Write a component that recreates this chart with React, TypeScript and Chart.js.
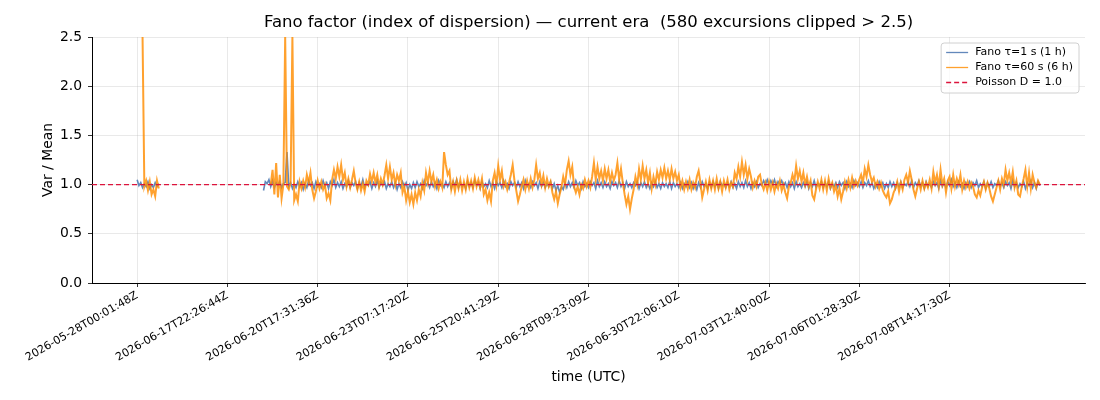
import React, { useEffect, useRef } from 'react';
import { Chart, registerables } from 'chart.js';

Chart.register(...registerables);

const FONT = '"DejaVu Sans", "Liberation Sans", sans-serif';
Chart.defaults.font.family = FONT;

const TITLE = 'Fano factor (index of dispersion) \u2014 current era  (580 excursions clipped > 2.5)';

// x is the sample index; tick labels are the timestamps of those samples
const TICK_SAMPLES = [0, 50, 100, 150, 200, 250, 300, 350, 400, 450];
const TICK_LABELS = [
  '2026-05-28T00:01:48Z',
  '2026-06-17T22:26:44Z',
  '2026-06-20T17:31:36Z',
  '2026-06-23T07:17:20Z',
  '2026-06-25T20:41:29Z',
  '2026-06-28T09:23:09Z',
  '2026-06-30T22:06:10Z',
  '2026-07-03T12:40:00Z',
  '2026-07-06T01:28:30Z',
  '2026-07-08T14:17:30Z',
];

const SERIES_NAMES = ['Fano \u03c4=1 s (1 h)', 'Fano \u03c4=60 s (6 h)', 'Poisson D = 1.0'];
const POISSON_D = 1.0;

// Fano factor, tau = 1 s (1 h window)
const FANO_1S = [
  1.05, 0.99, 1.02, 0.97, 1.01, 0.98, 1.03, 0.96, 1.0, 0.97, 1.02, 0.98, 1.01,
  null, null, null, null, null, null, null, null, null, null,
  null, null, null, null, null, null, null, null, null, null,
  null, null, null, null, null, null, null, null, null, null,
  null, null, null, null, null, null, null, null, null, null,
  null, null, null, null, null, null, null, null, null, null,
  null, null, null, null, null, null, null,
  0.94, 1.03, 1.01, 1.05, 0.98, 1.04, 0.97, 1.02, 0.99, 1.03,
  0.97, 1.01, 1.02, 1.33, 0.98, 1.02, 0.96, 1.01, 0.97, 1.03,
  0.98, 1.02, 0.95, 1.01, 0.97, 1.04, 0.99, 1.02, 0.96, 1.03,
  0.98, 1.01, 0.97, 1.04, 0.98, 1.02, 0.96, 1.03, 0.99, 1.05,
  0.97, 1.02, 0.98, 1.03, 0.96, 1.01, 0.98, 1.04, 0.97, 1.02,
  0.99, 1.03, 0.96, 1.02, 0.98, 1.05, 0.97, 1.01, 0.99, 1.03,
  0.96, 1.02, 0.98, 1.04, 0.97, 1.02, 0.99, 1.03, 0.96, 1.01,
  0.98, 1.03, 0.97, 1.02, 0.95, 1.01, 0.97, 1.03, 0.98, 1.02,
  0.94, 1.0, 0.96, 1.02, 0.97, 1.03, 0.98, 1.01, 0.96, 1.04,
  0.99, 1.02, 0.97, 1.03, 0.98, 1.02, 0.96, 1.04, 0.99, 1.01,
  0.97, 1.03, 0.98, 1.02, 0.96, 1.03, 0.99, 1.05, 0.97, 1.02,
  0.98, 1.01, 0.96, 1.03, 0.98, 1.02, 0.97, 1.04, 0.99, 1.02,
  0.96, 1.03, 0.98, 1.01, 0.97, 1.04, 0.98, 1.02, 0.96, 1.03,
  0.99, 1.02, 0.97, 1.04, 0.98, 1.01, 0.96, 1.03, 0.99, 1.02,
  0.97, 1.03, 0.98, 1.02, 0.96, 1.04, 0.98, 1.01, 0.97, 1.03,
  0.99, 1.02, 0.96, 1.03, 0.98, 1.02, 0.97, 1.01, 0.98, 1.03,
  0.96, 1.01, 0.94, 0.99, 0.92, 0.98, 0.95, 1.02, 0.97, 1.03,
  0.98, 1.02, 0.97, 1.04, 0.99, 1.02, 0.96, 1.03, 0.98, 1.01,
  0.97, 1.03, 0.99, 1.02, 0.96, 1.04, 0.98, 1.02, 0.97, 1.03,
  0.98, 1.01, 0.96, 1.03, 0.99, 1.02, 0.97, 1.04, 0.98, 1.02,
  0.96, 1.03, 0.98, 1.01, 0.97, 1.02, 0.99, 1.03, 0.96, 1.02,
  0.98, 1.03, 0.97, 1.01, 0.96, 1.02, 0.98, 1.03, 0.97, 1.01,
  0.96, 1.02, 0.98, 1.01, 0.97, 1.03, 0.96, 1.02, 0.98, 1.01,
  0.97, 1.02, 0.96, 1.01, 0.98, 1.03, 0.97, 1.02, 0.96, 1.01,
  0.95, 1.02, 0.97, 1.03, 0.98, 1.01, 0.96, 1.02, 0.97, 1.03,
  0.98, 1.02, 0.96, 1.03, 0.99, 1.01, 0.97, 1.02, 0.98, 1.03,
  0.97, 1.01, 0.96, 1.03, 0.98, 1.02, 0.97, 1.04, 0.98, 1.02,
  0.96, 1.02, 0.98, 1.03, 0.97, 1.01, 0.99, 1.04, 1.0, 1.05,
  0.99, 1.04, 1.0, 1.05, 0.98, 1.03, 1.0, 1.04, 0.99, 1.02,
  0.97, 1.03, 0.98, 1.02, 0.96, 1.03, 0.98, 1.01, 0.97, 1.02,
  0.98, 1.03, 0.96, 1.02, 0.98, 1.04, 0.97, 1.01, 0.99, 1.03,
  0.97, 1.02, 0.98, 1.03, 0.96, 1.01, 0.98, 1.02, 0.97, 1.03,
  0.99, 1.02, 0.96, 1.03, 0.98, 1.01, 0.97, 1.04, 0.99, 1.02,
  0.98, 1.03, 0.97, 1.02, 0.99, 1.04, 0.98, 1.02, 0.96, 1.01,
  0.97, 1.03, 0.98, 1.02, 0.96, 1.01, 0.97, 1.03, 0.98, 1.02,
  0.96, 1.02, 0.98, 1.03, 0.97, 1.01, 0.99, 1.03, 0.98, 1.04,
  0.97, 1.02, 0.99, 1.04, 0.98, 1.02, 0.96, 1.03, 0.98, 1.01,
  0.97, 1.03, 0.99, 1.02, 0.96, 1.04, 0.98, 1.02, 0.97, 1.03,
  0.99, 1.05, 0.98, 1.02, 0.97, 1.03, 0.98, 1.01, 0.96, 1.02,
  0.98, 1.03, 0.97, 1.02, 0.99, 1.04, 0.97, 1.01, 0.98, 1.03,
  0.96, 1.02, 0.98, 1.03, 0.97, 1.01, 0.99, 1.04, 0.98, 1.02,
  0.97, 1.03, 0.99, 1.02, 0.96, 1.04, 0.98, 1.02, 0.97, 1.01,
  0.98, 1.03, 0.96, 1.02, 0.99, 1.04, 0.97, 1.02, 0.96, 1.03, 0.99,
];

// Fano factor, tau = 60 s (6 h window); 2.5 = clipped excursion
const FANO_60S = [
  null, null, null, 2.5, 0.98, 1.04, 0.94, 1.03, 0.9, 0.95, 0.88, 1.04, 0.96,
  null, null, null, null, null, null, null, null, null, null,
  null, null, null, null, null, null, null, null, null, null,
  null, null, null, null, null, null, null, null, null, null,
  null, null, null, null, null, null, null, null, null, null,
  null, null, null, null, null, null, null, null, null, null,
  null, null, null, null, null, null, null, null, null, null,
  null,
  1.0, 1.15, 0.9, 1.22, 0.87, 1.1,
  0.86, 1.0, 2.5, 0.98, 0.95, 1.02, 2.5, 0.84, 0.9, 0.83,
  1.03, 0.96, 1.04, 0.97, 1.1, 1.02, 1.12, 0.95, 0.86, 0.93,
  1.04, 0.96, 1.03, 0.95, 1.0, 0.86, 0.91, 0.84, 1.05, 1.15,
  1.06, 1.18, 1.08, 1.2, 1.05, 1.12, 0.98, 1.06, 0.97, 1.05,
  1.14, 1.02, 0.95, 1.03, 0.94, 1.01, 0.93, 1.04, 1.0, 1.11,
  1.03, 1.12, 1.02, 1.1, 0.98, 1.06, 1.0, 1.09, 1.2, 1.06,
  1.18, 1.05, 1.12, 1.0, 1.1, 1.04, 1.12, 0.92, 0.98, 0.84,
  0.93, 0.82, 0.9, 0.8, 0.92, 0.84, 0.95, 0.88, 1.02, 0.94,
  1.12, 1.02, 1.14, 1.03, 1.1, 0.98, 1.05, 0.96, 1.03, 0.97,
  1.33, 1.2, 1.1, 1.14, 0.95, 1.03, 0.93, 1.04, 0.96, 1.05,
  0.94, 1.03, 0.95, 1.06, 0.97, 1.04, 0.96, 1.07, 0.98, 1.05,
  0.97, 1.06, 0.9, 0.95, 0.84, 0.92, 0.83, 1.04, 1.12, 1.0,
  1.19, 1.05, 1.14, 0.98, 1.03, 0.95, 1.02, 1.1, 1.2, 1.04,
  0.94, 0.83, 0.9, 0.98, 1.05, 0.95, 1.04, 0.96, 1.06, 0.97,
  1.05, 1.2, 1.06, 1.12, 1.0, 1.09, 0.97, 1.06, 0.98, 1.03,
  0.92, 0.85, 0.93, 0.81, 0.9, 0.97, 1.08, 1.0, 1.15, 1.24,
  1.1, 1.18, 0.98, 0.92, 0.98, 0.9, 1.0, 0.96, 1.05, 0.98,
  1.04, 0.97, 1.08, 1.22, 1.05, 1.18, 1.06, 1.14, 1.04, 1.16,
  1.06, 1.15, 1.03, 1.12, 1.04, 1.1, 1.22, 1.05, 1.16, 1.02,
  0.9, 0.8, 0.88, 0.75, 0.86, 0.95, 1.08, 1.0, 1.16, 1.05,
  1.19, 1.06, 1.15, 1.02, 1.12, 0.96, 1.08, 1.0, 1.13, 1.05,
  1.15, 1.07, 1.17, 1.06, 1.14, 1.05, 1.16, 1.06, 1.13, 1.04,
  1.1, 0.97, 1.04, 0.95, 1.03, 0.96, 1.05, 0.95, 1.02, 0.97,
  1.08, 1.14, 1.02, 0.87, 0.95, 1.03, 0.94, 1.05, 0.96, 1.04,
  0.95, 1.06, 0.96, 1.03, 0.93, 1.04, 0.97, 1.05, 0.95, 1.02,
  0.98, 1.12, 1.06, 1.18, 1.08, 1.23, 1.1, 1.2, 1.06, 1.16,
  1.08, 0.97, 1.04, 0.98, 1.08, 1.1, 1.0, 0.95, 1.02, 0.94,
  1.03, 0.95, 1.02, 0.93, 1.01, 0.96, 1.04, 0.94, 1.0, 0.92,
  0.86, 0.98, 1.02, 1.1, 1.03, 1.19, 1.06, 1.14, 1.03, 1.12,
  1.0, 1.08, 0.98, 1.04, 0.89, 0.85, 0.95, 1.03, 0.96, 1.05,
  0.95, 1.04, 0.94, 1.06, 0.97, 1.02, 0.93, 0.99, 0.88, 0.96,
  0.85, 0.93, 1.03, 0.96, 1.05, 0.97, 1.07, 0.98, 1.04, 0.99,
  1.05, 1.1, 1.02, 1.16, 1.08, 1.2, 1.1, 1.03, 1.07, 0.98,
  1.03, 0.96, 1.02, 0.94, 0.9, 0.87, 0.93, 0.81, 0.85, 0.92,
  0.96, 1.03, 0.93, 1.02, 0.95, 1.05, 1.1, 1.02, 1.14, 1.05,
  0.95, 0.88, 0.96, 1.03, 0.95, 1.04, 0.96, 1.02, 0.97, 1.05,
  0.96, 1.13, 1.02, 1.1, 0.98, 1.15, 1.0, 1.06, 0.92, 1.04,
  1.08, 0.96, 1.1, 0.98, 1.06, 1.0, 1.1, 0.95, 1.04, 0.97,
  1.03, 0.96, 1.02, 0.98, 0.9, 0.87, 0.94, 0.89, 0.97, 1.03,
  0.95, 1.02, 0.96, 0.88, 0.83, 0.9, 0.97, 1.04, 0.95, 1.06,
  1.0, 1.15, 1.04, 1.12, 1.02, 1.13, 0.97, 1.04, 0.9, 0.88,
  0.98, 1.06, 1.15, 0.98, 1.12, 0.96, 1.1, 1.02, 0.97, 1.04, 1.0,
];

const N_LAST = FANO_1S.length - 1;
const X_MIN = -0.05 * N_LAST;
const X_MAX = 1.05 * N_LAST;

const toPoints = (vals: (number | null)[]) => vals.map((y, i) => ({ x: i, y }));

// title centred over the axes + legend box inside the upper right corner
const overlayPlugin = {
  id: 'overlay',
  afterDraw(chart: any) {
    const { ctx, chartArea: a } = chart;
    ctx.save();
    ctx.fillStyle = '#000';
    ctx.font = `16.5px ${FONT}`;
    ctx.textAlign = 'center';
    ctx.textBaseline = 'middle';
    ctx.fillText(TITLE, (a.left + a.right) / 2, 23);

    const items = chart.data.datasets.map((ds: any) => ({
      label: ds.label,
      color: ds.borderColor,
      dash: ds.borderDash || [],
    }));
    ctx.font = `11px ${FONT}`;
    const textW = Math.max(...items.map((it: any) => ctx.measureText(it.label).width));
    const boxW = 34 + textW + 6;
    const boxH = 50;
    const bx = a.right - 6 - boxW;
    const by = a.top + 6;
    ctx.beginPath();
    ctx.roundRect(bx, by, boxW, boxH, 3);
    ctx.fillStyle = 'rgba(255,255,255,0.8)';
    ctx.fill();
    ctx.strokeStyle = '#d0d0d0';
    ctx.lineWidth = 1;
    ctx.stroke();
    items.forEach((it: any, i: number) => {
      const y = by + 9.5 + i * 15;
      ctx.beginPath();
      ctx.setLineDash(it.dash);
      ctx.strokeStyle = it.color;
      ctx.lineWidth = 1.3;
      ctx.moveTo(bx + 5, y);
      ctx.lineTo(bx + 27, y);
      ctx.stroke();
      ctx.setLineDash([]);
      ctx.fillStyle = '#000';
      ctx.textAlign = 'left';
      ctx.fillText(it.label, bx + 34, y);
    });
    ctx.restore();
  },
};

export default function App() {
  const chartRef = useRef<HTMLCanvasElement>(null);
  const chartInstance = useRef<Chart | null>(null);

  useEffect(() => {
    document.body.style.margin = '0';
    if (!chartRef.current) return;
    const ctx = chartRef.current.getContext('2d');
    if (!ctx) return;
    if (chartInstance.current) chartInstance.current.destroy();

    chartInstance.current = new Chart(ctx, {
      type: 'line',
      data: {
        datasets: [
          {
            label: SERIES_NAMES[0],
            data: toPoints(FANO_1S),
            borderColor: 'rgba(70,115,175,0.85)',
            borderWidth: 1.6,
            pointRadius: 0,
            spanGaps: false,
            order: 2,
          },
          {
            label: SERIES_NAMES[1],
            data: toPoints(FANO_60S),
            borderColor: 'rgba(255,140,0,0.82)',
            borderWidth: 2,
            pointRadius: 0,
            spanGaps: false,
            order: 1,
          },
          {
            label: SERIES_NAMES[2],
            data: [
              { x: X_MIN, y: POISSON_D },
              { x: X_MAX, y: POISSON_D },
            ],
            borderColor: '#dc143c',
            borderWidth: 1.2,
            borderDash: [5, 3],
            pointRadius: 0,
            order: 0,
          },
        ],
      },
      options: {
        responsive: false,
        animation: false,
        layout: { padding: { left: 0, right: 15, top: 37, bottom: 0 } },
        plugins: {
          legend: { display: false },
          title: { display: false },
          tooltip: { enabled: false },
        },
        scales: {
          x: {
            type: 'linear',
            min: X_MIN,
            max: X_MAX,
            afterBuildTicks: (scale: any) => {
              scale.ticks = TICK_SAMPLES.map((v) => ({ value: v }));
            },
            afterFit: (scale: any) => {
              scale.height = 117;
            },
            ticks: {
              autoSkip: false,
              minRotation: 30,
              maxRotation: 30,
              padding: 2,
              color: '#000',
              font: { size: 11 },
              callback: (v: any) => {
                const k = TICK_SAMPLES.indexOf(Number(v));
                return k >= 0 ? TICK_LABELS[k] : '';
              },
            },
            grid: {
              color: 'rgba(176,176,176,0.35)',
              lineWidth: 0.8,
              tickColor: '#000',
              tickLength: 4,
            },
            border: { color: '#000', width: 1 },
            title: {
              display: true,
              text: 'time (UTC)',
              color: '#000',
              font: { size: 13.9 },
              padding: { top: 0, bottom: 14 },
            },
          },
          y: {
            min: 0,
            max: 2.5,
            afterFit: (scale: any) => {
              scale.width = 92;
            },
            ticks: {
              stepSize: 0.5,
              padding: 6,
              color: '#000',
              font: { size: 13.9 },
              callback: (v: any) => Number(v).toFixed(1),
            },
            grid: {
              color: 'rgba(176,176,176,0.35)',
              lineWidth: 0.8,
              tickColor: '#000',
              tickLength: 4,
            },
            border: { color: '#000', width: 1 },
            title: {
              display: true,
              text: 'Var / Mean',
              color: '#000',
              font: { size: 13.9 },
              padding: { top: 40, bottom: 0 },
            },
          },
        },
      },
      plugins: [overlayPlugin],
    } as any);

    return () => {
      if (chartInstance.current) {
        chartInstance.current.destroy();
        chartInstance.current = null;
      }
    };
  }, []);

  return (
    <div style={{ width: 1100, height: 400 }}>
      <canvas ref={chartRef} width={1100} height={400} style={{ width: 1100, height: 400 }} />
    </div>
  );
}
